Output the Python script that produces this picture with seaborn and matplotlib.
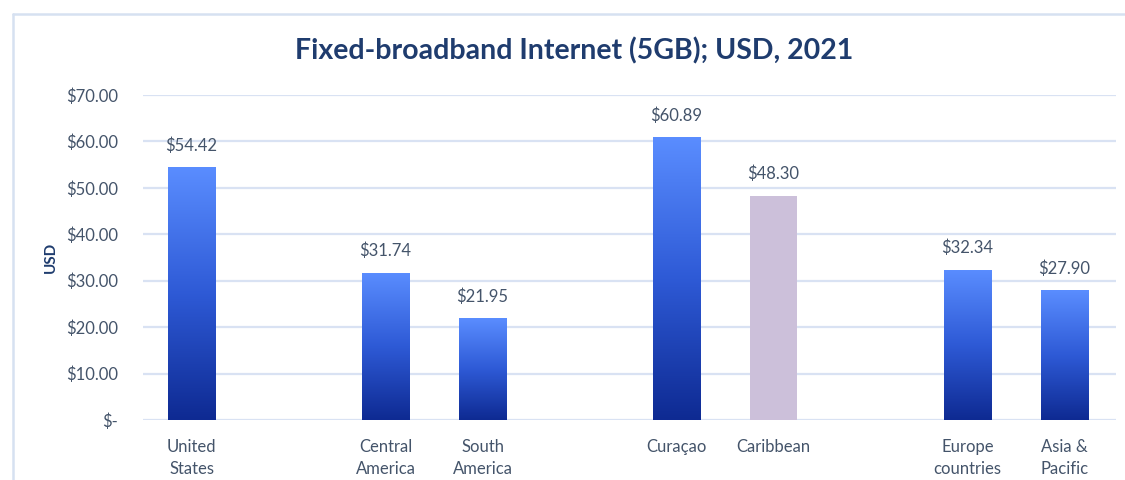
import numpy as np
import pandas as pd
import matplotlib
matplotlib.use("Agg")
import matplotlib.pyplot as plt
import matplotlib.lines as mlines
from matplotlib.colors import LinearSegmentedColormap
import seaborn as sns

# ---- data ----
groups = [
    ["United\nStates"],
    ["Central\nAmerica", "South\nAmerica"],
    ["Curaçao", "Caribbean"],
    ["Europe\ncountries", "Asia &\nPacific"],
]
categories = ["United\nStates", "Central\nAmerica", "South\nAmerica", "Curaçao",
              "Caribbean", "Europe\ncountries", "Asia &\nPacific"]
values = [54.42, 31.74, 21.95, 60.89, 48.30, 32.34, 27.90]
highlight = "Caribbean"
yticks = [0, 10, 20, 30, 40, 50, 60, 70]
ytick_labels = ["$-", "$10.00", "$20.00", "$30.00", "$40.00", "$50.00", "$60.00", "$70.00"]
title = "Fixed-broadband Internet (5GB); USD, 2021"
ylabel = "USD"

# ---- styling ----
sns.set_theme(style="white")
plt.rcParams["font.family"] = ["Lato", "DejaVu Sans"]

TEXT = "#44546A"
TITLE = "#1F3C6E"
GRID = "#D9E2F3"
LAV = "#CCC0DA"
BLUE = "#3A6AE6"
grad = LinearSegmentedColormap.from_list("g", ["#0E2A92", "#2E5AD6", "#5A8DFF"])

# order with blank spacer slots between groups
order = []
for i, g in enumerate(groups):
    if i > 0:
        order.append(" " * i)
    order.extend(g)

df = pd.DataFrame({"cat": categories, "val": values})
palette = {c: (LAV if c == highlight else BLUE) for c in categories}

fig = plt.figure(figsize=(11.25, 4.8), dpi=100)
ax = fig.add_axes([143 / 1125, 60 / 480, (1116 - 143) / 1125, 325 / 480])

sns.barplot(data=df, x="cat", y="val", hue="cat", palette=palette, order=order,
            hue_order=categories, width=0.49, legend=False, ax=ax, saturation=1,
            linewidth=0)

ax.set_ylim(0, 70)
ax.set_xlim(-0.5, 9.53)
ax.set_yticks(yticks)
ax.set_yticklabels(ytick_labels)
ax.yaxis.grid(True, color=GRID, linewidth=1.6)
ax.set_axisbelow(True)
for s in ax.spines.values():
    s.set_visible(False)
ax.tick_params(axis="both", length=0, labelsize=12, labelcolor=TEXT)
ax.tick_params(axis="y", pad=18)
ax.tick_params(axis="x", pad=14)
for t in ax.get_xticklabels():
    t.set_linespacing(1.45)
ax.set_xlabel("")
ax.set_ylabel(ylabel, fontsize=11, fontweight="bold", color=TITLE, labelpad=6)

# gradient fill and value labels
gimg = np.linspace(0, 1, 256).reshape(-1, 1)
lav_rgba = matplotlib.colors.to_rgba(LAV)
for patch in ax.patches:
    h = patch.get_height()
    if not np.isfinite(h) or h <= 0:
        continue
    x0 = patch.get_x()
    w = patch.get_width()
    fc = patch.get_facecolor()
    is_lav = abs(fc[0] - lav_rgba[0]) < 0.02
    if not is_lav:
        im = ax.imshow(gimg, cmap=grad, aspect="auto", origin="lower",
                       extent=[x0, x0 + w, 0, h], zorder=patch.get_zorder() + 0.1)
        im.set_clip_path(patch)
    ax.text(x0 + w / 2, h + 2.9, f"${h:.2f}", ha="center", va="bottom",
            fontsize=12, color=TEXT)
ax.set_xlim(-0.5, 9.53)
ax.set_ylim(0, 70)

fig.text(0.51, 0.895, title, ha="center", va="center", fontsize=20.5,
         fontweight="bold", color=TITLE)

# outer chart border (top and left)
fig.add_artist(mlines.Line2D([13 / 1125, 1.0], [1 - 14 / 480, 1 - 14 / 480],
                             color="#D6E1F1", linewidth=1.8, transform=fig.transFigure))
fig.add_artist(mlines.Line2D([13 / 1125, 13 / 1125], [0, 1 - 14 / 480],
                             color="#D6E1F1", linewidth=1.8, transform=fig.transFigure))

fig.savefig("out.png", dpi=100, facecolor="white")
